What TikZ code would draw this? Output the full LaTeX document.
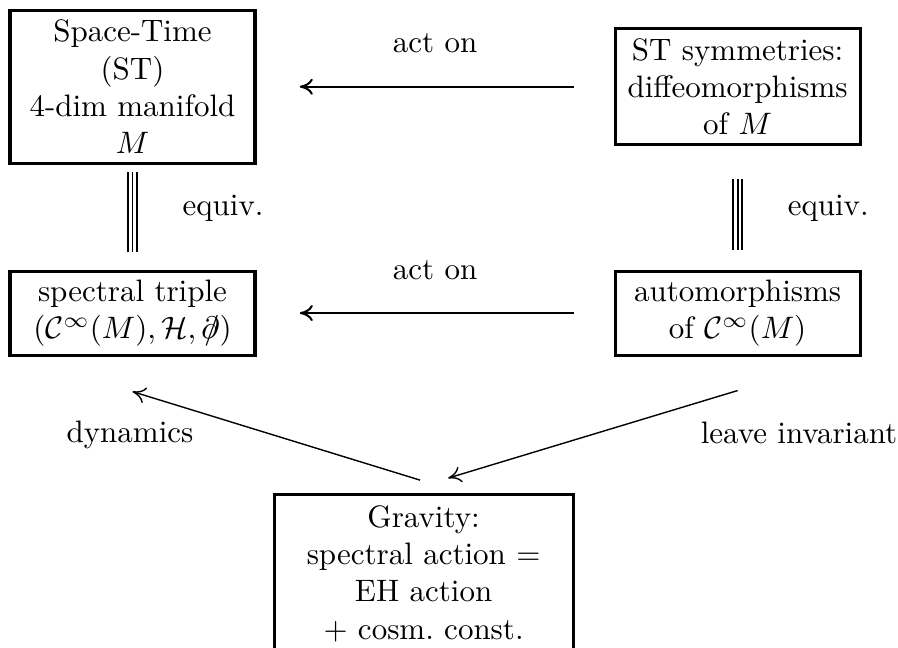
\documentclass[tikz,border=0pt]{standalone}
\usepackage{amsmath}
\usepackage{amssymb}
\usetikzlibrary{calc,positioning,arrows.meta}

\begin{document}
\begin{tikzpicture}[
  blk/.style={draw, line width=1pt, align=center, inner sep=2pt, minimum width=2.778cm},
  act/.style={line width=0.65pt, -{To[length=4.2pt,width=5.2pt]}},
  dyn/.style={line width=0.45pt, -{To[length=4.2pt,width=5.2pt]}},
  eqline/.style={line width=0.6pt}]

\useasboundingbox (0,0) rectangle (10.18,-7.335);

\node[blk, minimum height=1.735cm] (st) at (1.502,-0.983) {Space-Time\\(ST)\\4-dim manifold\\$M$};
\node[blk, minimum height=1.315cm] (sym) at (8.362,-0.983) {ST symmetries:\\diffeomorphisms\\of $M$};
\node[blk, minimum height=0.952cm] (spec) at (1.502,-3.549) {spectral triple\\$(\mathcal{C}^\infty(M),\mathcal{H},\partial\!\!\!/)$};
\node[blk, minimum height=0.952cm] (aut) at (8.362,-3.549) {automorphisms\\of $\mathcal{C}^\infty(M)$};
\node[blk, minimum width=3.39cm, minimum height=1.79cm, anchor=north] (grav) at (4.802,-5.59) {Gravity:\\spectral action $=$\\EH action\\$+$ cosm.\ const.};

\draw[act, shorten <=0.45cm, shorten >=0.49cm] (sym) -- (st) node[midway, above=0.25cm] (act1) {act on};
\draw[act, shorten <=0.45cm, shorten >=0.49cm] (aut) -- (spec) node[midway, above=0.25cm] (act2) {act on};

\foreach \s in {-1.45pt,0pt,1.45pt}
  \draw[eqline, shorten <=0.08cm, shorten >=0.2cm, transform canvas={xshift=\s}] (st) -- (spec);
\foreach \s in {-1.45pt,0pt,1.45pt}
  \draw[eqline, shorten <=0.37cm, shorten >=0.22cm, transform canvas={xshift=\s}] (sym) -- (aut);
\node[anchor=base west] (eq1) at (1.946,-2.438) {equiv.};
\node[anchor=base west] (eq2) at (8.806,-2.438) {equiv.};

\coordinate (dynS) at ($(grav.north)+(-0.04,0.147)$);
\coordinate (dynE) at ($(spec.south)+(0,-0.397)$);
\coordinate (invS) at ($(aut.south)+(0,-0.385)$);
\coordinate (invE) at ($(grav.north)+(0.278,0.17)$);
\draw[dyn] (dynS) -- (dynE);
\draw[dyn] (invS) -- (invE);
\node[anchor=base] (dynlab) at (1.474,-5.011) {dynamics};
\node[anchor=base west] (invlab) at (7.82,-5.023) {leave invariant};
\end{tikzpicture}
\end{document}
